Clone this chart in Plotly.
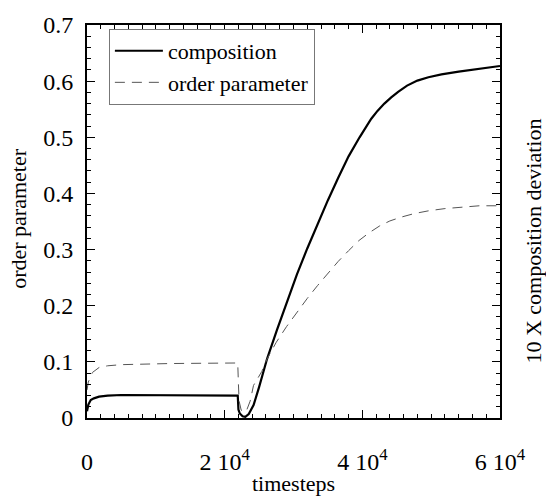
import plotly.graph_objects as go

# ---- data ----
comp_t = [0, 50, 200, 540, 1000, 1760, 3000, 5000, 10000, 15000, 20000, 21900,
          22000, 22200, 22600, 23000, 23500, 24200, 25000, 26150, 27600, 29080,
          30500, 32000, 33500, 35000, 36500, 38000, 39600, 40500, 41300, 42200,
          43200, 44200, 45200, 46500, 48000, 49600, 51500, 54000, 57000, 60000]
comp_v = [0.012, 0.017, 0.024, 0.032, 0.035, 0.038, 0.040, 0.041, 0.041, 0.040,
          0.040, 0.040, 0.015, 0.008, 0.003, 0.002, 0.007, 0.023, 0.055, 0.105,
          0.157, 0.209, 0.256, 0.302, 0.346, 0.388, 0.428, 0.466, 0.500, 0.518,
          0.533, 0.547, 0.560, 0.571, 0.581, 0.592, 0.601, 0.607, 0.612, 0.617,
          0.622, 0.627]

order_t = [0, 190, 780, 1760, 3000, 5000, 12000, 20000, 21900, 22000, 22100,
           22400, 22800, 23200, 23700, 24190, 25400, 26150, 27500, 29000, 30500,
           32000, 33500, 35000, 36500, 38000, 39500, 41000, 42500, 44000, 45700,
           47500, 49600, 52000, 54400, 57000, 60000]
order_v = [0.050, 0.064, 0.081, 0.090, 0.093, 0.095, 0.097, 0.098, 0.098, 0.060,
           0.030, 0.014, 0.010, 0.014, 0.030, 0.058, 0.083, 0.105, 0.135, 0.163,
           0.189, 0.213, 0.236, 0.258, 0.279, 0.298, 0.316, 0.330, 0.342, 0.351,
           0.358, 0.364, 0.369, 0.373, 0.376, 0.378, 0.378]

x_tickvals = [0, 20000, 40000, 60000]
x_ticktext = ["0", "2 10<sup>4</sup>", "4 10<sup>4</sup>", "6 10<sup>4</sup>"]
y_tickvals = [0, 0.1, 0.2, 0.3, 0.4, 0.5, 0.6, 0.7]
y_ticktext = ["0", "0.1", "0.2", "0.3", "0.4", "0.5", "0.6", "0.7"]

FONT = '"Liberation Serif", "Times New Roman", "DejaVu Serif", serif'

fig = go.Figure()
fig.add_trace(go.Scatter(x=comp_t, y=comp_v, mode="lines", name="composition",
                         line=dict(color="black", width=2.2)))
fig.add_trace(go.Scatter(x=order_t, y=order_v, mode="lines", name="order parameter",
                         line=dict(color="#555555", width=1, dash="10px,7px")))

axis_common = dict(showgrid=False, zeroline=False, showline=True, linecolor="black",
                   linewidth=2, mirror="ticks", ticks="inside", ticklen=8,
                   tickwidth=1, tickcolor="black", ticklabeloverflow="allow",
                   tickfont=dict(family=FONT, size=24, color="black"))

fig.update_layout(
    width=546, height=496,
    margin=dict(l=87, r=46, t=17, b=78),
    paper_bgcolor="white", plot_bgcolor="white",
    font=dict(family=FONT, size=22, color="black"),
    showlegend=True,
    legend=dict(x=0.053, y=0.99, xanchor="left", yanchor="top",
                bgcolor="white", bordercolor="#777777", borderwidth=1,
                font=dict(family=FONT, size=22, color="black"),
                tracegroupgap=0, itemwidth=48),
    xaxis=dict(range=[0, 60000], tickmode="array", tickvals=x_tickvals,
               ticktext=x_ticktext, ticklabelstandoff=21,
               minor=dict(dtick=2000, ticks="inside", ticklen=4, tickcolor="black"),
               **axis_common),
    yaxis=dict(range=[0, 0.7], tickmode="array", tickvals=y_tickvals,
               ticktext=y_ticktext, ticklabelstandoff=7,
               minor=dict(dtick=0.02, tick0=0, ticks="inside", ticklen=4, tickcolor="black"),
               **axis_common),
    annotations=[
        dict(text="order parameter", xref="paper", yref="paper", x=-0.165, y=0.509,
             xanchor="center", yanchor="middle",
             textangle=-90, showarrow=False, font=dict(family=FONT, size=22)),
        dict(text="10 X composition deviation", xref="paper", yref="paper", x=1.082,
             y=0.451, xanchor="center", yanchor="middle",
             textangle=-90, showarrow=False, font=dict(family=FONT, size=22)),
        dict(text="timesteps", xref="paper", yref="paper", x=0.5, y=-0.166,
             xanchor="center", yanchor="middle",
             showarrow=False, font=dict(family=FONT, size=22)),
    ],
)

fig.write_html("out.html", config={"displayModeBar": False},
               post_script="document.body.style.margin='0';document.body.style.overflow='hidden';")
